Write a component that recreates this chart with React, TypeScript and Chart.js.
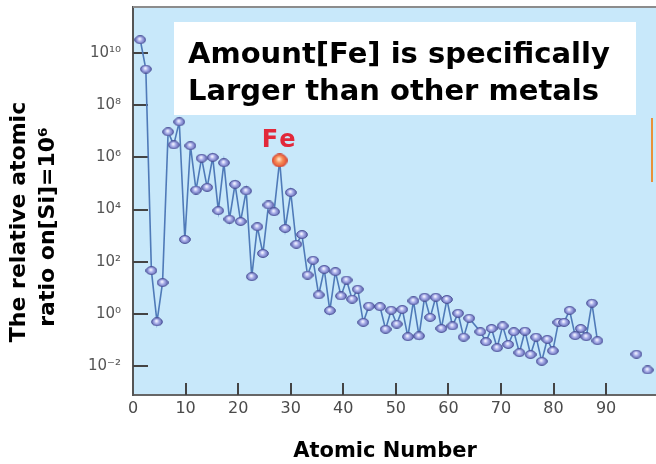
import React, { useEffect, useRef } from "react";
import { Chart, registerables } from "chart.js";

Chart.register(...registerables);

// ---------- data ----------
const atomicNumbers = [
  1, 2, 3, 4, 5, 6, 7, 8, 9, 10, 11, 12, 13, 14, 15, 16, 17, 18, 19, 20,
  21, 22, 23, 24, 25, 26, 27, 28, 29, 30, 31, 32, 33, 34, 35, 36, 37, 38, 39, 40,
  41, 42, 44, 45, 46, 47, 48, 49, 50, 51, 52, 53, 54, 55, 56, 57, 58, 59, 60,
  62, 63, 64, 65, 66, 67, 68, 69, 70, 71, 72, 73, 74, 75, 76, 77, 78, 79, 80,
  81, 82, 83,
];
const abundances = [
  3.2e10, 2.4e9, 46, 0.5, 16, 9.5e6, 3.0e6, 2.3e7, 720, 2.8e6,
  5.6e4, 9.3e5, 7.1e4, 1e6, 9.1e3, 6.2e5, 4.3e3, 9.3e4, 3.5e3, 5.2e4,
  27, 2.2e3, 210, 1.5e4, 8.3e3, 7.6e5, 1.9e3, 4.5e4, 470, 1.1e3,
  31, 115, 5.4, 51, 1.35, 42, 4.9, 20, 3.7, 8.9,
  0.48, 2.0, 1.9, 0.26, 1.4, 0.41, 1.5, 0.135, 3.2, 0.145,
  4.4, 0.74, 4.4, 0.28, 3.6, 0.35, 1.07, 0.13, 0.69,
  0.21, 0.087, 0.28, 0.051, 0.35, 0.068, 0.21, 0.033, 0.22, 0.028,
  0.13, 0.0155, 0.107, 0.039, 0.48, 0.48, 1.38, 0.148, 0.28,
  0.135, 2.6, 0.095,
];
const heavyNumbers = [90, 92];
const heavyAbundances = [0.029, 0.0072];

const xTickValues = [0, 10, 20, 30, 40, 50, 60, 70, 80, 90];
const yTickExponents = [-2, 0, 2, 4, 6, 8, 10];

const highlightZ = 26;
const highlightLabel = "Fe";
const noteLines = ["Amount[Fe] is specifically", "Larger than other metals"];
const yTitleLines = ["The relative atomic", "ratio on[Si]=10\u2076"];
const xTitle = "Atomic Number";

// ---------- helpers ----------
const SUP: Record<string, string> = {
  "-": "\u207B", "0": "\u2070", "1": "\u00B9", "2": "\u00B2", "3": "\u00B3",
  "4": "\u2074", "5": "\u2075", "6": "\u2076", "7": "\u2077", "8": "\u2078", "9": "\u2079",
};
const sup = (n: number) => String(n).split("").map((c) => SUP[c] || c).join("");

const FONT = "'DejaVu Sans', Verdana, sans-serif";
const PLOT_BG = "rgb(200,232,250)";

function makeBall(w: number, h: number, stops: [number, string][], edge: string) {
  const c = document.createElement("canvas");
  c.width = w;
  c.height = h;
  const ctx = c.getContext("2d")!;
  const g = ctx.createRadialGradient(w * 0.45, h * 0.4, 0.5, w / 2, h / 2, w / 2);
  stops.forEach(([o, col]) => g.addColorStop(o, col));
  ctx.beginPath();
  ctx.ellipse(w / 2, h / 2, w / 2 - 0.6, h / 2 - 0.6, 0, 0, Math.PI * 2);
  ctx.fillStyle = g;
  ctx.fill();
  ctx.lineWidth = 1;
  ctx.strokeStyle = edge;
  ctx.stroke();
  return c;
}

const zeroPad = (s: any) => {
  s.paddingTop = 0;
  s.paddingBottom = 0;
  s.paddingLeft = 0;
  s.paddingRight = 0;
};

const decorPlugin = {
  id: "decor",
  beforeDraw(chart: any) {
    const { ctx, chartArea: a } = chart;
    ctx.save();
    ctx.fillStyle = PLOT_BG;
    ctx.fillRect(a.left, a.top, a.right - a.left, a.bottom - a.top);
    ctx.restore();
  },
  beforeDatasetsDraw(chart: any) {
    const { ctx, chartArea: a } = chart;
    ctx.save();
    // top frame line
    ctx.strokeStyle = "#8c8c8c";
    ctx.lineWidth = 2;
    ctx.beginPath();
    ctx.moveTo(a.left, a.top);
    ctx.lineTo(a.right, a.top);
    ctx.stroke();
    // inner tick marks
    ctx.strokeStyle = "#444";
    ctx.lineWidth = 2;
    const xs = chart.scales.x;
    xs.ticks.forEach((t: any) => {
      if (t.value <= 0) return;
      const px = Math.round(xs.getPixelForValue(t.value));
      ctx.beginPath();
      ctx.moveTo(px, a.bottom);
      ctx.lineTo(px, a.bottom - 12);
      ctx.stroke();
    });
    const ys = chart.scales.y;
    ys.ticks.forEach((t: any) => {
      const py = Math.round(ys.getPixelForValue(t.value));
      ctx.beginPath();
      ctx.moveTo(a.left, py);
      ctx.lineTo(a.left + 15, py);
      ctx.stroke();
    });
    // orange marker at right edge
    ctx.strokeStyle = "#e8913a";
    ctx.lineWidth = 2;
    ctx.beginPath();
    ctx.moveTo(652, 118);
    ctx.lineTo(652, 182);
    ctx.stroke();
    ctx.restore();
  },
  afterDatasetsDraw(chart: any) {
    const { ctx } = chart;
    ctx.save();
    // note box
    ctx.fillStyle = "#ffffff";
    ctx.fillRect(174, 22, 462, 93);
    ctx.fillStyle = "#000";
    ctx.font = `bold 29px ${FONT}`;
    ctx.textAlign = "left";
    ctx.textBaseline = "alphabetic";
    ctx.fillText(noteLines[0], 188, 63);
    ctx.fillText(noteLines[1], 188, 100);
    // Fe label
    const i = atomicNumbers.indexOf(highlightZ);
    const fx = chart.scales.xd.getPixelForValue(highlightZ);
    const fy = chart.scales.y.getPixelForValue(abundances[i]);
    ctx.fillStyle = "#e2283a";
    ctx.font = `bold 24px ${FONT}`;
    (ctx as any).letterSpacing = "2px";
    ctx.textAlign = "center";
    ctx.fillText(highlightLabel, fx, fy - 13);
    (ctx as any).letterSpacing = "0px";
    // axis titles
    ctx.fillStyle = "#000";
    ctx.font = `bold 22px ${FONT}`;
    ctx.textAlign = "center";
    ctx.textBaseline = "middle";
    ctx.save();
    ctx.translate(19, 222);
    ctx.rotate(-Math.PI / 2);
    ctx.fillText(yTitleLines[0], 0, 0);
    ctx.restore();
    ctx.save();
    ctx.translate(48, 227);
    ctx.rotate(-Math.PI / 2);
    ctx.fillText(yTitleLines[1], 0, 0);
    ctx.restore();
    ctx.font = `bold 21px ${FONT}`;
    ctx.fillText(xTitle, 385, 452);
    ctx.restore();
  },
};

export default function App() {
  const ref = useRef<HTMLCanvasElement | null>(null);

  useEffect(() => {
    if (!ref.current) return;
    Chart.defaults.font.family = FONT;

    const blueBall = makeBall(12, 9, [[0, "#f2f3ff"], [0.35, "#a6ace8"], [1, "#5258a6"]], "#4a5096");
    const redBall = makeBall(16, 14, [[0, "#ffe6cc"], [0.4, "#f68c56"], [1, "#e0452e"]], "#d04030");

    const mainData = atomicNumbers.map((z, i) => ({ x: z, y: abundances[i] }));
    const heavyData = heavyNumbers.map((z, i) => ({ x: z, y: heavyAbundances[i] }));

    const chart = new Chart(ref.current, {
      type: "line",
      data: {
        datasets: [
          {
            data: mainData,
            xAxisID: "xd",
            yAxisID: "y",
            borderColor: "#4f7ab8",
            borderWidth: 1.6,
            tension: 0,
            pointStyle: (c: any) => (c.raw && c.raw.x === highlightZ ? redBall : blueBall),
            pointRadius: 5,
            clip: false,
          } as any,
          {
            data: heavyData,
            xAxisID: "xd",
            yAxisID: "y",
            showLine: false,
            borderColor: "#4f7ab8",
            pointStyle: blueBall,
            pointRadius: 5,
            clip: false,
          } as any,
        ],
      },
      options: {
        animation: false,
        responsive: false,
        maintainAspectRatio: false,
        layout: { autoPadding: false, padding: { top: 7, left: 88, right: 0, bottom: 39 } },
        plugins: { legend: { display: false }, tooltip: { enabled: false } },
        events: [],
        scales: {
          x: {
            type: "linear",
            position: "bottom",
            min: 0,
            max: 99.5,
            grid: { display: false, drawTicks: false },
            border: { display: true, color: "#666", width: 2 },
            afterBuildTicks: (s: any) => {
              s.ticks = xTickValues.map((v) => ({ value: v }));
            },
            afterFit: (s: any) => {
              s.height = 30;
              zeroPad(s);
            },
            ticks: {
              padding: 4,
              color: "#4a4a4a",
              font: { size: 16, family: FONT },
              maxRotation: 0,
              autoSkip: false,
            },
          },
          xd: {
            type: "linear",
            display: false,
            min: -0.3,
            max: 93.5,
            afterFit: zeroPad,
          },
          y: {
            type: "logarithmic",
            position: "left",
            min: 7.9e-4,
            max: 5.75e11,
            grid: { display: false, drawTicks: false },
            border: { display: true, color: "#555", width: 2 },
            afterBuildTicks: (s: any) => {
              s.ticks = yTickExponents.map((e) => ({ value: Math.pow(10, e) }));
            },
            afterFit: (s: any) => {
              s.width = 45;
              zeroPad(s);
            },
            ticks: {
              padding: 12,
              color: "#555",
              font: { size: 15, family: FONT },
              autoSkip: false,
              callback: (v: any) => "10" + sup(Math.round(Math.log10(Number(v)))),
            },
          },
        },
      } as any,
      plugins: [decorPlugin],
    });

    return () => chart.destroy();
  }, []);

  return (
    <div style={{ position: "fixed", left: 0, top: 0, width: 656, height: 464, background: "#fff" }}>
      <canvas ref={ref} width={656} height={464} style={{ width: 656, height: 464, display: "block" }} />
    </div>
  );
}
